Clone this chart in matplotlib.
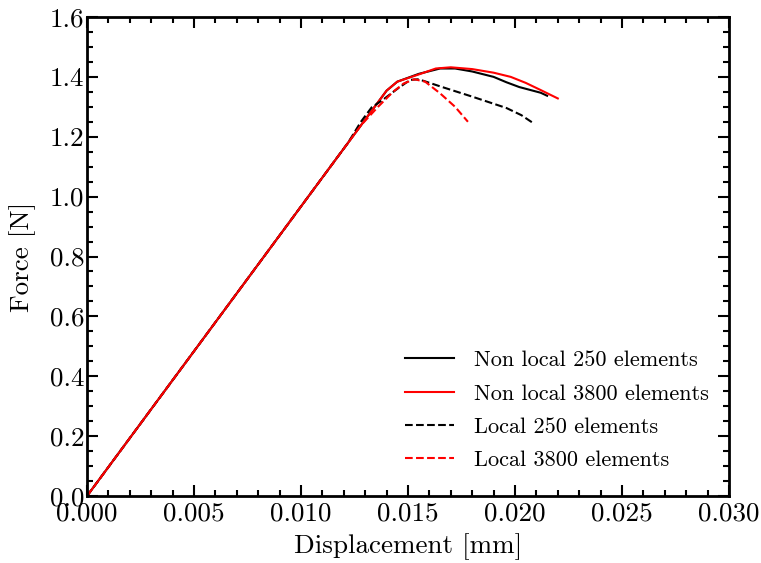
import matplotlib
matplotlib.use("Agg")
import matplotlib.pyplot as plt
from matplotlib.ticker import MultipleLocator, FormatStrFormatter

plt.rcParams["font.family"] = "cmr10"
plt.rcParams["mathtext.fontset"] = "cm"
plt.rcParams["axes.formatter.use_mathtext"] = True

# Non local, 250 elements
nl250_x = [0, 0.0140, 0.0145, 0.0155, 0.0165, 0.0172, 0.0180, 0.0190, 0.0196, 0.0202, 0.0212, 0.0215]
nl250_y = [0, 1.354, 1.384, 1.410, 1.428, 1.428, 1.418, 1.400, 1.382, 1.366, 1.347, 1.337]

# Non local, 3800 elements
nl3800_x = [0, 0.0140, 0.0145, 0.0155, 0.0163, 0.0170, 0.0180, 0.0190, 0.0198, 0.0205, 0.0212, 0.0220]
nl3800_y = [0, 1.354, 1.384, 1.408, 1.428, 1.432, 1.426, 1.414, 1.400, 1.380, 1.356, 1.328]

# Local, 250 elements
l250_x = [0, 0.0122, 0.0128, 0.0133, 0.0138, 0.0145, 0.0151, 0.0155, 0.0166, 0.0180, 0.0196, 0.0203, 0.0208]
l250_y = [0, 1.180, 1.250, 1.298, 1.322, 1.360, 1.390, 1.392, 1.366, 1.334, 1.296, 1.272, 1.248]

# Local, 3800 elements
l3800_x = [0, 0.0128, 0.0136, 0.0143, 0.0148, 0.0153, 0.0158, 0.0165, 0.0172, 0.0178]
l3800_y = [0, 1.238, 1.300, 1.350, 1.378, 1.392, 1.384, 1.345, 1.300, 1.250]

fig = plt.figure(figsize=(7.61, 5.63), dpi=100)
ax = fig.add_axes([87 / 761, 1 - 496 / 563, 642 / 761, 479 / 563])

ax.plot(nl250_x, nl250_y, color="black", lw=1.5, label="Non local 250 elements")
ax.plot(nl3800_x, nl3800_y, color="red", lw=1.5, label="Non local 3800 elements")
ax.plot(l250_x, l250_y, color="black", lw=1.5, ls="--", label="Local 250 elements")
ax.plot(l3800_x, l3800_y, color="red", lw=1.5, ls="--", label="Local 3800 elements")

ax.set_xlim(0, 0.03)
ax.set_ylim(0, 1.6)
ax.xaxis.set_major_locator(MultipleLocator(0.005))
ax.xaxis.set_minor_locator(MultipleLocator(0.001))
ax.yaxis.set_major_locator(MultipleLocator(0.2))
ax.yaxis.set_minor_locator(MultipleLocator(0.05))
ax.xaxis.set_major_formatter(FormatStrFormatter("%.3f"))
ax.yaxis.set_major_formatter(FormatStrFormatter("%.1f"))

ax.tick_params(which="both", direction="in", top=True, right=True, width=1.5, labelsize=19.5)
ax.tick_params(axis="x", pad=4)
ax.tick_params(axis="y", pad=2)
ax.tick_params(which="major", length=8)
ax.tick_params(which="minor", length=4)
for s in ax.spines.values():
    s.set_linewidth(2)

ax.set_xlabel("Displacement [mm]", fontsize=19.5, labelpad=6)
ax.set_ylabel("Force [N]", fontsize=19.5, labelpad=10)

ax.legend(loc="lower right", frameon=False, fontsize=16, handlelength=2.2,
          bbox_to_anchor=(1.0, 0.012), labelspacing=0.62, handletextpad=0.9)

fig.savefig("out.png", dpi=100)
